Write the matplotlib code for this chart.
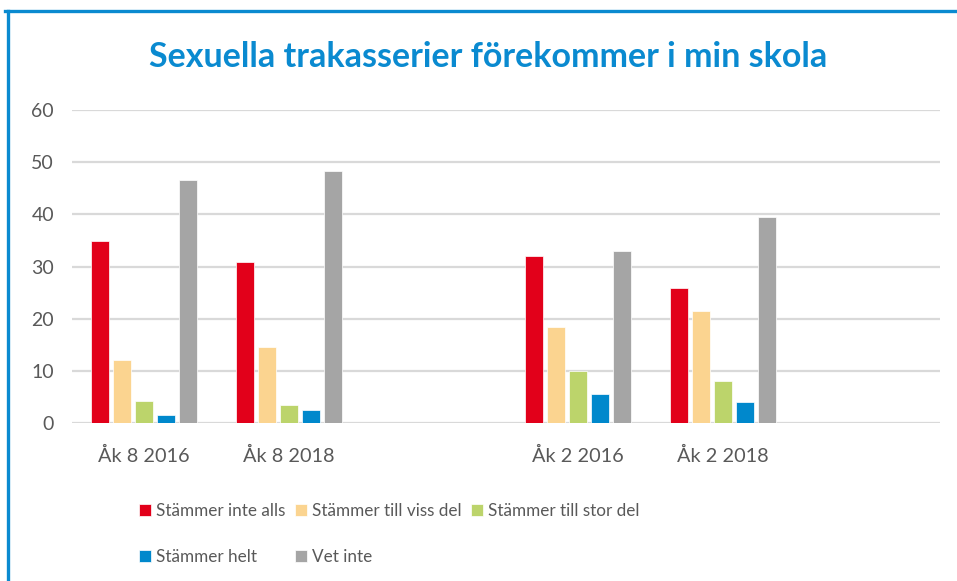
import matplotlib.pyplot as plt
from matplotlib.lines import Line2D
import numpy as np

# データ
categories = ['Åk 8 2016', 'Åk 8 2018', '', 'Åk 2 2016', 'Åk 2 2018', '']
series_names = ['Stämmer inte alls', 'Stämmer till viss del', 'Stämmer till stor del',
                'Stämmer helt', 'Vet inte']
inte_alls = [35.0, 30.8, 0, 32.0, 25.9, 0]
viss_del = [12.1, 14.6, 0, 18.4, 21.6, 0]
stor_del = [4.2, 3.5, 0, 10.1, 8.1, 0]
helt = [1.5, 2.5, 0, 5.7, 4.0, 0]
vet_inte = [46.5, 48.3, 0, 33.0, 39.6, 0]
yticks = [0, 10, 20, 30, 40, 50, 60]

colors = ['#E2001A', '#FBD490', '#BCD46B', '#0088CC', '#A5A5A5']
series = [inte_alls, viss_del, stor_del, helt, vet_inte]

plt.rcParams['font.family'] = ['Lato', 'DejaVu Sans']

fig = plt.figure(figsize=(9.57, 5.81), dpi=100)
ax = fig.add_axes([0.0752, 0.2714, 0.9068, 0.5393])

x = np.arange(len(categories))
step = 0.152
width = 0.124
handles = []
for i, (vals, name, c) in enumerate(zip(series, series_names, colors)):
    b = ax.bar(x + (i - 2) * step, vals, width, color=c, label=name,
               edgecolor='white', linewidth=0.5, zorder=3)
    handles.append(b)

ax.set_xlim(-0.5, len(categories) - 0.5)
ax.set_ylim(0, 60)
ax.set_yticks(yticks)
ax.set_xticks(x)
ax.set_xticklabels(categories)
ax.yaxis.grid(True, color='#D9D9D9', linewidth=1.6, zorder=0)
ax.set_axisbelow(True)
for s in ax.spines.values():
    s.set_visible(False)
ax.tick_params(axis='both', length=0, colors='#595959')
ax.tick_params(axis='y', pad=13, labelsize=14)
ax.tick_params(axis='x', pad=17, labelsize=14.3)

fig.text(0.51, 0.902, 'Sexuella trakasserier förekommer i min skola', ha='center', va='center',
         fontsize=24.5, fontweight='bold', color='#0A8AD0')

# 行優先の並びにする
order = [0, 3, 1, 4, 2]
fig.legend([handles[k] for k in order], [series_names[k] for k in order],
           loc='upper left', bbox_to_anchor=(0.145, 0.135), ncol=3, frameon=False,
           fontsize=12.3, labelcolor='#595959', handlelength=0.7, handleheight=0.7,
           handletextpad=0.3, columnspacing=0.55, labelspacing=1.8,
           borderaxespad=0, borderpad=0)

# 外枠
fig.add_artist(Line2D([5 / 957, 1], [1 - 11 / 581, 1 - 11 / 581], color='#0A8AD0', linewidth=2.4))
fig.add_artist(Line2D([8 / 957, 8 / 957], [0, 1 - 11 / 581], color='#0A8AD0', linewidth=2.4))

plt.savefig('out.png', dpi=100)
